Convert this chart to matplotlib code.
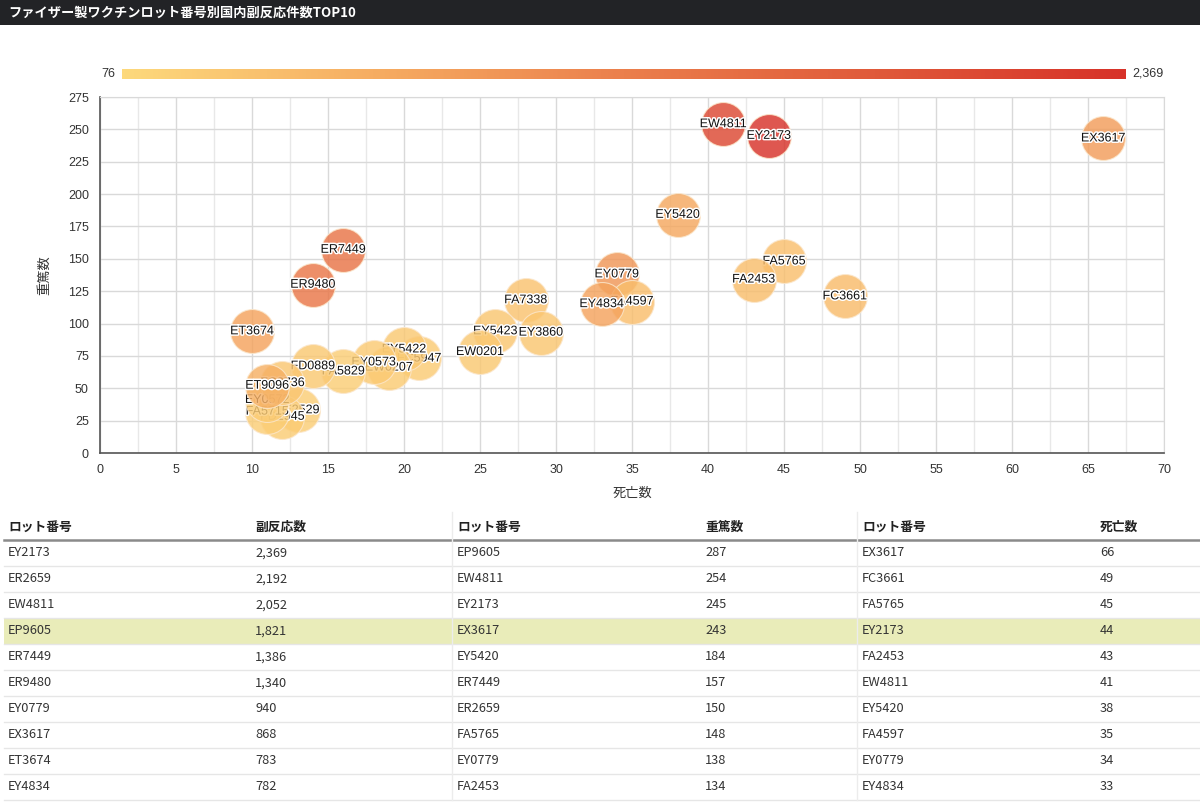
import matplotlib
matplotlib.use('Agg')
import matplotlib.pyplot as plt
import matplotlib.patheffects as pe
import numpy as np
from matplotlib.colors import LinearSegmentedColormap
from matplotlib.ticker import MultipleLocator

plt.rcParams['font.family'] = ['Liberation Sans', 'Noto Sans CJK JP']

# bubble chart: lot number, deaths (x), serious cases (y), adverse reactions (colour)
# listed in drawing order (later ones sit on top)
lots = ['EW4811', 'EY2173', 'EX3617', 'EY5420', 'ER7449', 'ER9480', 'ET3674',
        'FA5765', 'FA2453', 'FC3661', 'EY0779', 'FA4597', 'EY4834', 'FA7338',
        'EY3860', 'EY5423', 'EW0201', 'FC5947', 'EY5422', 'EW0207', 'EY0573',
        'FA5829', 'FD0889', 'FE2529', 'FD1945', 'FA5715', 'EY0572', 'FC8736',
        'ET9096']
deaths = [41, 44, 66, 38, 16, 14, 10,
          45, 43, 49, 34, 35, 33, 28,
          29, 26, 25, 21, 20, 19, 18,
          16, 14, 13, 12, 11, 11, 12,
          11]
serious = [254, 245, 243, 184, 157, 130, 94,
           148, 134, 121, 138, 117, 115, 118,
           93, 94, 78, 73, 80, 66, 70,
           63, 67, 33, 28, 32, 41, 54,
           52]
reactions = [2052, 2369, 868, 720, 1386, 1340, 783,
             420, 450, 470, 940, 430, 782, 380,
             330, 320, 300, 260, 300, 270, 280,
             240, 300, 230, 250, 240, 260, 330,
             620]

c_min, c_max = 76, 2369

# tables below the chart
top_reac_lots = ['EY2173', 'ER2659', 'EW4811', 'EP9605', 'ER7449',
                 'ER9480', 'EY0779', 'EX3617', 'ET3674', 'EY4834']
top_reac_vals = [2369, 2192, 2052, 1821, 1386, 1340, 940, 868, 783, 782]
top_ser_lots = ['EP9605', 'EW4811', 'EY2173', 'EX3617', 'EY5420',
                'ER7449', 'ER2659', 'FA5765', 'EY0779', 'FA2453']
top_ser_vals = [287, 254, 245, 243, 184, 157, 150, 148, 138, 134]
top_death_lots = ['EX3617', 'FC3661', 'FA5765', 'EY2173', 'FA2453',
                  'EW4811', 'EY5420', 'FA4597', 'EY0779', 'EY4834']
top_death_vals = [66, 49, 45, 44, 43, 41, 38, 35, 34, 33]

W, H = 1200, 806
fig = plt.figure(figsize=(W / 100, H / 100), dpi=100)
fig.patch.set_facecolor('white')

cmap = LinearSegmentedColormap.from_list(
    'reac', ['#fdd97c', '#f6ad62', '#eb7f4c', '#e05a3a', '#d73229'])

# page layer in pixel coordinates: title bar + tables
page = fig.add_axes([0, 0, 1, 1], zorder=0)
page.set_xlim(0, W)
page.set_ylim(H, 0)
page.axis('off')

page.add_patch(plt.Rectangle((0, 0), W, 25, color='#222326', lw=0))
page.text(8, 12.5, 'ファイザー製ワクチンロット番号別国内副反応件数TOP10',
          color='white', fontsize=9.5, fontweight='bold', va='center',
          family=['Noto Sans CJK JP'])

tfont = ['Noto Sans CJK JP']
tables = [
    ('副反応数', top_reac_lots, top_reac_vals, 8, 255),
    ('重篤数', top_ser_lots, top_ser_vals, 457, 705),
    ('死亡数', top_death_lots, top_death_vals, 862, 1100),
]
row_h = 26
head_y = 527
first_y = 553
page.add_patch(plt.Rectangle((4, first_y + 3 * row_h - 13), W - 4, row_h,
                             color='#e9ecb9', lw=0))
for k in range(10):
    yl = 540 + row_h * (k + 1)
    page.plot([4, W], [yl, yl], color='#e6e6e6', lw=1)
page.plot([4, W], [540, 540], color='#8a8a8a', lw=1.8)
for xs in [452, 857]:
    page.plot([xs, xs], [512, 800], color='#ececec', lw=1)
for title, tl, tv, x0, x1 in tables:
    page.text(x0, head_y, 'ロット番号', fontsize=9.2, fontweight='bold',
              va='center', family=tfont, color='#222')
    page.text(x1, head_y, title, fontsize=9.2, fontweight='bold',
              va='center', family=tfont, color='#222')
    for k, (lot, v) in enumerate(zip(tl, tv)):
        y = first_y + row_h * k
        page.text(x0, y, lot, fontsize=9.2, va='center', family=tfont,
                  color='#333')
        page.text(x1, y, f'{v:,}', fontsize=9.2, va='center', family=tfont,
                  color='#333')

# colour scale bar
cax = fig.add_axes([122 / W, 1 - 79 / H, 1004 / W, 10 / H])
cax.imshow(np.linspace(0, 1, 512)[None, :], aspect='auto', cmap=cmap)
cax.set_xticks([])
cax.set_yticks([])
for s in cax.spines.values():
    s.set_visible(False)
fig.text(115 / W, 1 - 74 / H, f'{c_min:,}', ha='right', va='center',
         fontsize=9, color='#333')
fig.text(1132 / W, 1 - 74 / H, f'{c_max:,}', ha='left', va='center',
         fontsize=9, color='#333')

# bubble chart
ax = fig.add_axes([100 / W, 1 - 453 / H, 1064 / W, 356 / H], zorder=2)
ax.set_facecolor('none')
ax.set_xlim(0, 70)
ax.set_ylim(0, 275)
ax.xaxis.set_major_locator(MultipleLocator(5))
ax.xaxis.set_minor_locator(MultipleLocator(2.5))
ax.yaxis.set_major_locator(MultipleLocator(25))
ax.grid(which='major', color='#d9d9d9', lw=1, zorder=0)
ax.grid(which='minor', axis='x', color='#e8e8e8', lw=1, zorder=0)
ax.tick_params(which='minor', length=0)
ax.tick_params(which='major', length=0, labelsize=9, colors='#333', pad=8)
for side in ['top', 'right']:
    ax.spines[side].set_color('#d9d9d9')
for side in ['left', 'bottom']:
    ax.spines[side].set_color('#555')
    ax.spines[side].set_linewidth(1.2)

for i, lot in enumerate(lots):
    z = 3 + 2 * i
    ax.scatter(deaths[i], serious[i], s=1000, c=[reactions[i]], cmap=cmap,
               vmin=c_min, vmax=c_max, alpha=0.82, edgecolors='#fbe7cc',
               linewidths=0.8, zorder=z)
    ax.text(deaths[i], serious[i], lot, ha='center', va='center',
            fontsize=9, color='#111', zorder=z + 1,
            path_effects=[pe.withStroke(linewidth=2.2, foreground='white')])

ax.set_xlabel('死亡数', fontsize=9.5, style='italic', color='#333',
              labelpad=8, family=['Noto Sans CJK JP'])
ax.set_ylabel('重篤数', fontsize=9.5, style='italic', color='#333',
              labelpad=12, family=['Noto Sans CJK JP'])

fig.savefig('out.png', dpi=100, facecolor='white')
plt.close()
